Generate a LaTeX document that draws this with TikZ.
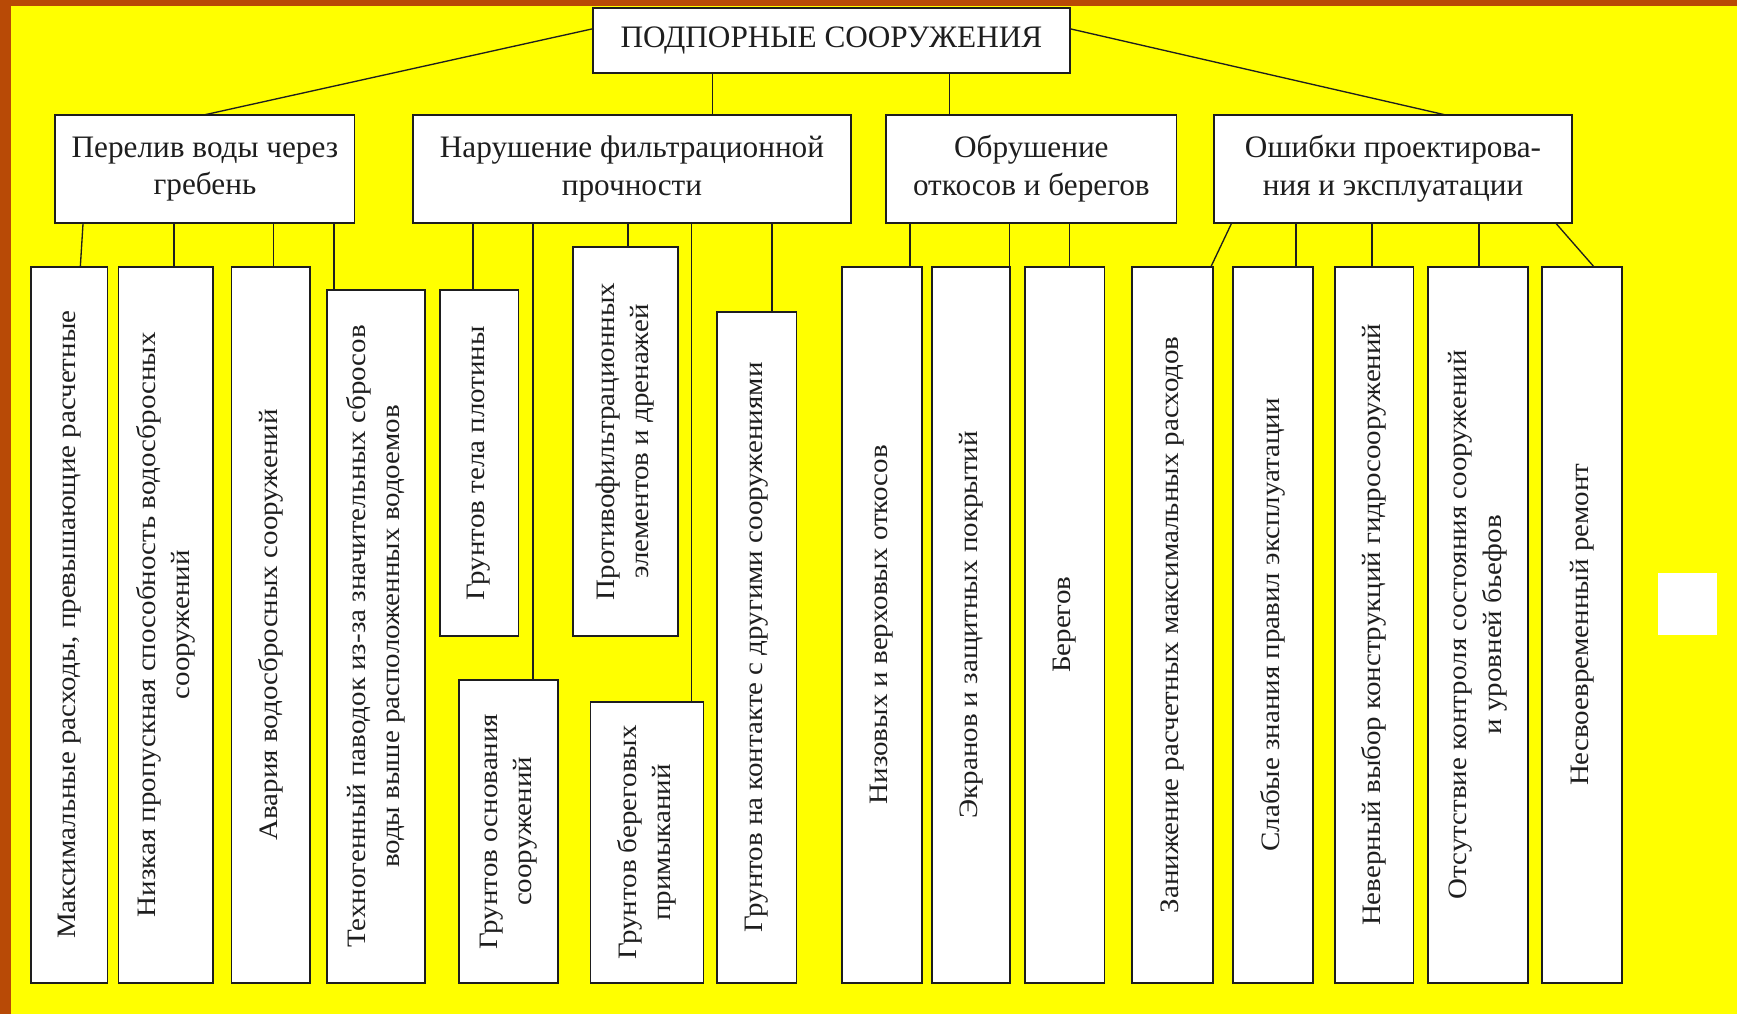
\documentclass[tikz,border=0pt]{standalone}
\usepackage{fontspec}
\setmainfont{Liberation Serif}
\newfontfamily\vfont[FakeStretch=1.09]{Liberation Serif}
\definecolor{bgorange}{RGB}{184,74,6}
\definecolor{bgyellow}{RGB}{255,255,0}
\definecolor{ink}{RGB}{30,30,30}
\newcommand\Bx[6]{\node[box, minimum width={(#4-#2)*0.5pt}, minimum height={(#5-#3)*0.5pt}, #6] (#1) at ({(#2+#4)/2},{(#3+#5)/2})}
\newcommand\Leaf[6]{\node[box, minimum width={(#4-#2)*0.5pt}, minimum height={(#5-#3)*0.5pt}] (#1) at ({(#2+#4)/2},{(#3+#5)/2}) {};
  \node[vtext] (#1t) at (#1.center) {#6};}
\begin{document}
\begin{tikzpicture}[x=0.5pt,y=-0.5pt,
  box/.style={draw=ink, line width=0.85pt, fill=white, inner sep=0pt, outer sep=0pt},
  htext/.style={font=\fontsize{14.1}{17}\selectfont, align=center, text=ink},
  vtext/.style={font=\vfont\fontsize{12}{15.5}\selectfont, align=center, rotate=90, text=ink, inner sep=0pt},
  link/.style={draw=ink, line width=0.6pt}]
\useasboundingbox (0,0) rectangle (1568,915.4);
\fill[bgorange] (0,0) rectangle (1568,915.4);
\fill[bgyellow] (10,5) rectangle (1568,915.4);
% top
\Bx{top}{535}{7}{966}{66}{htext} {ПОДПОРНЫЕ СООРУЖЕНИЯ};
% level 2
\Bx{B1}{50}{104}{320}{201}{htext} {Перелив воды через\\гребень};
\Bx{B2}{373}{104}{768}{201}{htext} {Нарушение фильтрационной\\прочности};
\Bx{B3}{800}{104}{1062}{201}{htext} {Обрушение\\откосов и берегов};
\Bx{B4}{1096}{104}{1419}{201}{htext} {Ошибки проектирова-\\ния и эксплуатации};
% leaves under B1
\Leaf{L1}{28}{241}{97}{887}{Максимальные расходы, превышающие расчетные}
\Leaf{L2}{107}{241}{192}{887}{Низкая пропускная способность водосбросных\\сооружений}
\Leaf{L3}{209}{241}{280}{887}{Авария водосбросных сооружений}
\Leaf{L4}{295}{262}{384}{887}{Техногенный паводок из-за значительных сбросов\\воды выше расположенных водоемов}
% leaves under B2
\Leaf{M1}{397}{262}{468}{574}{Грунтов тела плотины}
\Leaf{M2}{414}{614}{504}{887}{Грунтов основания\\сооружений}
\Leaf{M3}{517}{223}{612}{574}{Противофильтрационных\\элементов и дренажей}
\Leaf{M4}{533}{634}{635}{887}{Грунтов береговых\\примыканий}
\Leaf{M5}{647}{282}{719}{887}{Грунтов на контакте с другими сооружениями}
% leaves under B3
\Leaf{N1}{760}{241}{832}{887}{Низовых и верховых откосов}
\Leaf{N2}{841}{241}{912}{887}{Экранов и защитных покрытий}
\Leaf{N3}{925}{241}{997}{887}{Берегов}
% leaves under B4
\Leaf{P1}{1022}{241}{1095}{887}{Занижение расчетных  максимальных расходов}
\Leaf{P2}{1113}{241}{1185}{887}{Слабые знания правил эксплуатации}
\Leaf{P3}{1205}{241}{1276}{887}{Неверный выбор конструкций гидросооружений}
\Leaf{P4}{1289}{241}{1379}{887}{Отсутствие контроля состояния сооружений\\и уровней бьефов}
\Leaf{P5}{1392}{241}{1464}{887}{Несвоевременный ремонт}
% white square
\node[fill=white, inner sep=0pt, outer sep=0pt, minimum width={53*0.5pt}, minimum height={56*0.5pt}] (sq) at (1523.5,545) {};
% connectors from top
\draw[link] (top.west |- 0,26) -- (B1.north -| 183,0);
\draw[link] (top.south -| 643,0) -- (B2.north -| 643,0);
\draw[link] (top.south -| 857,0) -- (B3.north -| 857,0);
\draw[link] (top.east |- 0,26) -- (B4.north -| 1306,0);
% B1 children
\draw[link] (B1.south -| 75,0) -- (L1.north -| 72.5,0);
\draw[link] (B1.south -| 157,0) -- (L2.north -| 157,0);
\draw[link] (B1.south -| 247,0) -- (L3.north -| 247,0);
\draw[link] (B1.south -| 301.5,0) -- (L4.north -| 301.5,0);
% B2 children
\draw[link] (B2.south -| 427,0) -- (M1.north -| 427,0);
\draw[link] (B2.south -| 481,0) -- (M2.north -| 481,0);
\draw[link] (B2.south -| 567,0) -- (M3.north -| 567,0);
\draw[link] (B2.south -| 624,0) -- (M4.north -| 624,0);
\draw[link] (B2.south -| 697,0) -- (M5.north -| 697,0);
% B3 children
\draw[link] (B3.south -| 821.5,0) -- (N1.north -| 821.5,0);
\draw[link] (B3.south -| 911.5,0) -- (N2.north -| 911.5,0);
\draw[link] (B3.south -| 965.5,0) -- (N3.north -| 965.5,0);
% B4 children
\draw[link] (B4.south -| 1112,0) -- (P1.north -| 1093,0);
\draw[link] (B4.south -| 1170,0) -- (P2.north -| 1170,0);
\draw[link] (B4.south -| 1238.5,0) -- (P3.north -| 1238.5,0);
\draw[link] (B4.south -| 1335,0) -- (P4.north -| 1335,0);
\draw[link] (B4.south -| 1404,0) -- (P5.north -| 1439,0);
\end{tikzpicture}
\end{document}
